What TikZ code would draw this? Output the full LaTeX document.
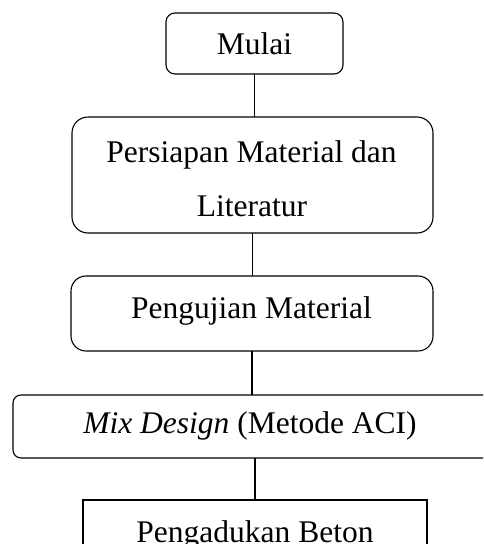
\documentclass[tikz,border=0pt]{standalone}
\usepackage{fontspec}
\setmainfont{Liberation Serif}
\begin{document}
\begin{tikzpicture}[x=1pt,y=-1pt,
  box/.style={draw,line width=1.1pt,inner sep=0pt,outer sep=0pt},
  lbl/.style={inner sep=0pt,anchor=base,font=\fontsize{31.5}{38}\selectfont},
  link/.style={line width=1.1pt}]
\clip (0,0) rectangle (483,544);
\fill[white] (0,0) rectangle (483,544);
% boxes
\node[box,rounded corners=9pt,minimum width=177pt,minimum height=61pt] (b1) at (254.5,43.5) {};
\node[box,rounded corners=16pt,minimum width=361pt,minimum height=116pt] (b2) at (252.5,175) {};
\node[box,rounded corners=15pt,minimum width=362pt,minimum height=75pt] (b3) at (252,313.5) {};
\node[box,rounded corners=8pt,minimum width=490pt,minimum height=63pt] (b4) at (258,426.5) {};
\node[box,minimum width=344pt,minimum height=60pt] (b5) at (255,530) {};
% texts
\node[lbl] (t1) at (254.5,54) {Mulai};
\node[lbl] (t2a) at (251.5,162) {Persiapan Material dan};
\node[lbl] (t2b) at (252,216) {Literatur};
\node[lbl] (t3) at (251.5,318) {Pengujian Material};
\node[lbl] (t4) at (250,433) {\textit{Mix Design} (Metode ACI)};
\node[lbl] (t5) at (255,542) {Pengadukan Beton};
% connectors
\draw[link] (b1.south) -- (b1.south |- b2.north);
\draw[link] (b2.south) -- (b2.south |- b3.north);
\draw[link] (b3.south) -- (b3.south |- b4.north);
\draw[link] (b5.north) ++(0,0) coordinate (c5) (c5 |- b4.south) -- (c5);
\end{tikzpicture}
\end{document}
